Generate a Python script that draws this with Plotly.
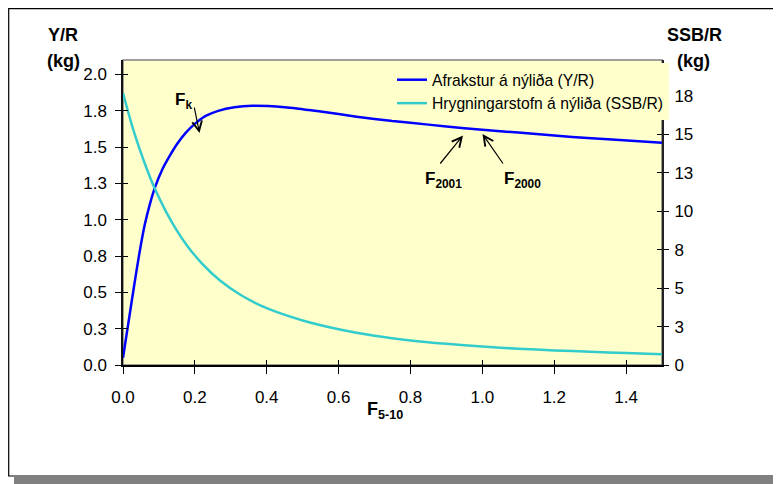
import plotly.graph_objects as go

# ---------------- data ----------------
F_yr = [0.0, 0.015, 0.03, 0.045, 0.06, 0.075, 0.09, 0.11, 0.13, 0.15, 0.175, 0.2,
        0.23, 0.265, 0.31, 0.36, 0.45, 0.55, 0.65, 0.75, 0.85, 0.95, 1.05, 1.15,
        1.25, 1.35, 1.5]
yield_per_recruit = [0.05, 0.29, 0.53, 0.76, 0.96, 1.11, 1.23, 1.35, 1.44, 1.52, 1.60, 1.66,
                     1.715, 1.75, 1.775, 1.785, 1.775, 1.745, 1.71, 1.68, 1.655, 1.63, 1.61, 1.59,
                     1.57, 1.555, 1.53]
F_ssb = [0.0, 0.03, 0.06, 0.09, 0.12, 0.15, 0.18, 0.22, 0.27, 0.33, 0.4, 0.5,
         0.6, 0.7, 0.8, 0.9, 1.0, 1.1, 1.2, 1.3, 1.4, 1.5]
ssb_per_recruit = [17.7, 15.2, 13.15, 11.4, 9.97, 8.75, 7.72, 6.6, 5.5, 4.52, 3.7, 2.9,
                   2.33, 1.9, 1.6, 1.38, 1.2, 1.06, 0.95, 0.86, 0.78, 0.70]

x_tickvals = [0.0, 0.2, 0.4, 0.6, 0.8, 1.0, 1.2, 1.4]
x_ticktext = ["0.0", "0.2", "0.4", "0.6", "0.8", "1.0", "1.2", "1.4"]
yl_tickvals = [0.0, 0.25, 0.5, 0.75, 1.0, 1.25, 1.5, 1.75, 2.0]
yl_ticktext = ["0.0", "0.3", "0.5", "0.8", "1.0", "1.3", "1.5", "1.8", "2.0"]
yr_tickvals = [0, 2.5, 5, 7.5, 10, 12.5, 15, 17.5]
yr_ticktext = ["0", "3", "5", "8", "10", "13", "15", "18"]

series_names = ["Afrakstur á nýliða (Y/R)", "Hrygningarstofn á nýliða (SSB/R)"]

# ---------------- layout geometry ----------------
# the page body has an 8px margin, so the figure is 8px smaller than the window
PAGE_OFF = 8
W, H = 781 - PAGE_OFF, 484 - PAGE_OFF
PL, PR, PT, PB = 123, 662, 60, 365          # plot-area edges in page pixels
ML, MR, MT, MB = PL - PAGE_OFF, 781 - PR, PT - PAGE_OFF, 484 - PB
PW, PH = PR - PL, PB - PT


def px(xp):
    """page x pixel -> paper x"""
    return (xp - PL) / PW


def py(yp):
    """page y pixel -> paper y"""
    return (PB - yp) / PH


FONT = "Liberation Sans, Arial, sans-serif"
BLACK = "#000000"

fig = go.Figure()
fig.add_trace(go.Scatter(x=F_yr, y=yield_per_recruit, name=series_names[0],
                         mode="lines", line=dict(color="#0000FF", width=2.5, shape="spline", smoothing=0.8),
                         xaxis="x", yaxis="y"))
fig.add_trace(go.Scatter(x=F_ssb, y=ssb_per_recruit, name=series_names[1],
                         mode="lines", line=dict(color="#33CCCC", width=2.5, shape="spline", smoothing=0.8),
                         xaxis="x", yaxis="y2"))
# empty helper traces so the inside-tick overlay axes are drawn
fig.add_trace(go.Scatter(x=[None], y=[None], xaxis="x2", yaxis="y3", showlegend=False, hoverinfo="skip"))
fig.add_trace(go.Scatter(x=[None], y=[None], xaxis="x", yaxis="y4", showlegend=False, hoverinfo="skip"))

XR = [0, 1.5]
YLR = [0, 2.1]
YRR = [0, 19.85]
tickfont = dict(family=FONT, size=17, color=BLACK)

fig.update_layout(
    width=W, height=H,
    margin=dict(l=ML, r=MR, t=MT, b=MB),
    paper_bgcolor="white",
    plot_bgcolor="#FFFFCC",
    showlegend=True,
    font=dict(family=FONT, color=BLACK),
    xaxis=dict(range=XR, tickvals=x_tickvals, ticktext=x_ticktext, ticks="outside",
               ticklen=7, tickwidth=1.2, tickcolor=BLACK, showline=True, linecolor=BLACK,
               linewidth=2, showgrid=False, zeroline=False, tickfont=tickfont,
               ticklabelstandoff=9, anchor="y"),
    xaxis2=dict(range=XR, tickvals=x_tickvals, ticks="inside", ticklen=5, tickwidth=1.2,
                tickcolor=BLACK, showticklabels=False, showline=False, showgrid=False,
                zeroline=False, overlaying="x", anchor="y", side="bottom"),
    yaxis=dict(range=YLR, tickvals=yl_tickvals, ticktext=yl_ticktext, ticks="outside",
               ticklen=6, tickwidth=1.2, tickcolor=BLACK, showline=True, linecolor="#111111",
               linewidth=1.5, showgrid=False, zeroline=False, tickfont=tickfont,
               ticklabelstandoff=5),
    yaxis2=dict(range=YRR, tickvals=yr_tickvals, ticktext=yr_ticktext, ticks="outside",
                ticklen=5, tickwidth=1.2, tickcolor=BLACK, showline=True, linecolor="#222222",
                linewidth=2, showgrid=False, zeroline=False, tickfont=tickfont,
                overlaying="y", side="right", anchor="x", ticklabelstandoff=2),
    yaxis3=dict(range=YLR, tickvals=yl_tickvals, ticks="inside", ticklen=5, tickwidth=1.2,
                tickcolor=BLACK, showticklabels=False, showline=False, showgrid=False,
                zeroline=False, overlaying="y", side="left", anchor="x2"),
    yaxis4=dict(range=YRR, tickvals=yr_tickvals, ticks="inside", ticklen=5, tickwidth=1.2,
                tickcolor=BLACK, showticklabels=False, showline=False, showgrid=False,
                zeroline=False, overlaying="y", side="right", anchor="x"),
    legend=dict(x=px(392), y=py(63), xanchor="left", yanchor="top",
                bgcolor="#FFFFCC", borderwidth=0, itemwidth=30,
                font=dict(family=FONT, size=15.7, color=BLACK), tracegroupgap=0),
)

# plot-area border (grey) and outer frame with shadow
fig.add_shape(type="rect", xref="paper", yref="paper", x0=0, x1=1, y0=0, y1=1,
              line=dict(color="#808080", width=1.5), layer="below")
fig.add_shape(type="rect", xref="paper", yref="paper", x0=px(14), x1=px(800),
              y0=py(477), y1=py(490), fillcolor="#808080", line=dict(width=0), layer="below")
fig.add_shape(type="rect", xref="paper", yref="paper", x0=px(8.7), x1=px(800),
              y0=py(476), y1=py(8.7), line=dict(color=BLACK, width=1.2), layer="below")

titlefont = dict(family=FONT, size=18, color=BLACK)
annots = [
    dict(text="<b>Y/R</b>", x=px(63), y=py(35)),
    dict(text="<b>(kg)</b>", x=px(63), y=py(61)),
    dict(text="<b>SSB/R</b>", x=px(694), y=py(35)),
    dict(text="<b>(kg)</b>", x=px(693), y=py(61)),
    dict(text="<b>F<sub>5-10</sub></b>", x=px(385), y=py(410)),
]
for a in annots:
    fig.add_annotation(xref="paper", yref="paper", showarrow=False, xanchor="center",
                       yanchor="middle", font=titlefont, **a)

labfont = dict(family=FONT, size=17, color=BLACK)
# labels of the marked fishing mortalities
for text, cx, cy in [("<b>F<sub>k</sub></b>", 183, 101),
                     ("<b>F<sub>2001</sub></b>", 443, 180),
                     ("<b>F<sub>2000</sub></b>", 522, 180)]:
    fig.add_annotation(x=px(cx), y=py(cy), xref="paper", yref="paper", text=text,
                       showarrow=False, font=labfont, xanchor="center", yanchor="middle")
# arrows
for head, tail in [((199.5, 133), (194, 106)), ((463, 135.5), (439, 165)), ((482.5, 134), (504, 165))]:
    fig.add_annotation(x=px(head[0]), y=py(head[1]), xref="paper", yref="paper", text="",
                       showarrow=True, axref="pixel", ayref="pixel",
                       ax=tail[0] - head[0], ay=tail[1] - head[1],
                       arrowhead=5, arrowsize=1.6, arrowwidth=1.2, arrowcolor=BLACK, standoff=0)

fig.write_html("out.html")
